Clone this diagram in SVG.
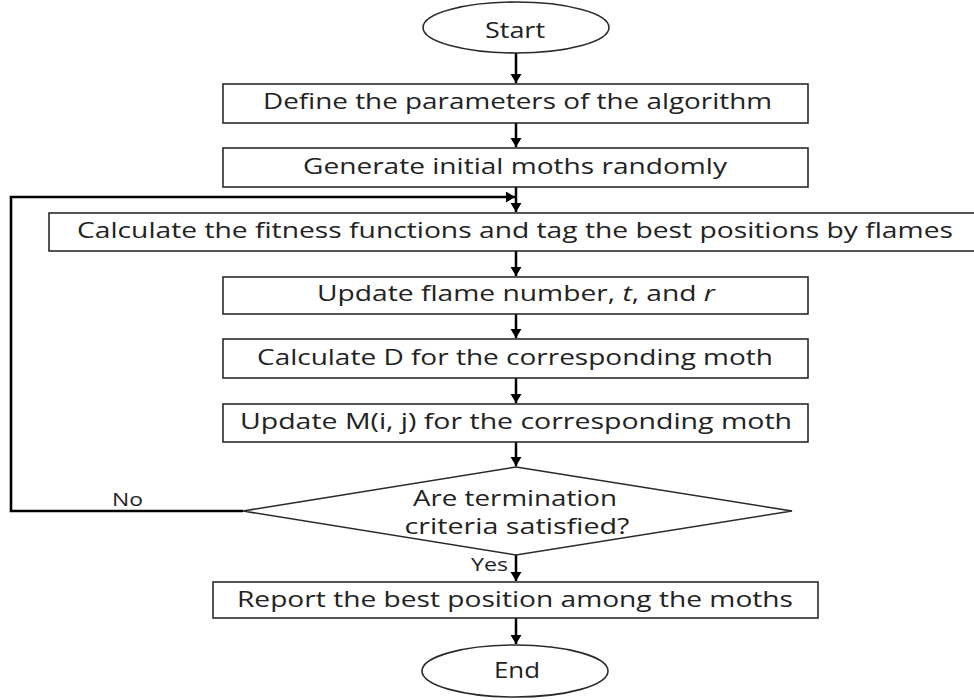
<svg xmlns="http://www.w3.org/2000/svg" width="974" height="700" viewBox="0 0 974 700">
  <style>
    .box { fill: #ffffff; stroke: #2a2a2a; stroke-width: 1.6; }
    .txt { font-family: "Open Sans", "Noto Sans", "Liberation Sans", sans-serif; font-size: 21px; fill: #222222; text-anchor: middle; }
    .lbl { font-family: "Open Sans", "Noto Sans", "Liberation Sans", sans-serif; font-size: 19px; fill: #222222; text-anchor: middle; }
    .conn { fill: none; stroke: #000000; stroke-width: 2.5; }
    .loop { fill: none; stroke: #000000; stroke-width: 2.6; }
  </style>
  <defs>
    <marker id="arrow" markerUnits="userSpaceOnUse" markerWidth="12" markerHeight="12" refX="9" refY="5.5" orient="auto">
      <path d="M0,0 L9,5.5 L0,11 z" fill="#000000"/>
    </marker>
  </defs>
  <rect width="974" height="700" fill="#ffffff"/>

  <g id="connectors">
    <line class="conn" x1="516" y1="53" x2="516" y2="83" marker-end="url(#arrow)"/>
    <line class="conn" x1="516" y1="123" x2="516" y2="147" marker-end="url(#arrow)"/>
    <line class="conn" x1="516" y1="187" x2="516" y2="212" marker-end="url(#arrow)"/>
    <line class="conn" x1="516" y1="251" x2="516" y2="276" marker-end="url(#arrow)"/>
    <line class="conn" x1="516" y1="314" x2="516" y2="338" marker-end="url(#arrow)"/>
    <line class="conn" x1="516" y1="378" x2="516" y2="403" marker-end="url(#arrow)"/>
    <line class="conn" x1="516" y1="442" x2="516" y2="466" marker-end="url(#arrow)"/>
    <line class="conn" x1="516" y1="555" x2="516" y2="581" marker-end="url(#arrow)"/>
    <line class="conn" x1="516" y1="618" x2="516" y2="644" marker-end="url(#arrow)"/>
    <polyline class="loop" points="243,511 11,511 11,197 515,197" marker-end="url(#arrow)"/>
    <text class="lbl" x="127.5" y="506" textLength="31" lengthAdjust="spacingAndGlyphs">No</text>
    <text class="lbl" x="489.5" y="571" textLength="37" lengthAdjust="spacingAndGlyphs">Yes</text>
  </g>

  <g id="start">
    <ellipse class="box" cx="516" cy="27.5" rx="93" ry="25.5"/>
    <text class="txt" x="515" y="38" textLength="60" lengthAdjust="spacingAndGlyphs">Start</text>
  </g>

  <g id="define">
    <rect class="box" x="223" y="84" width="585" height="39"/>
    <text class="txt" x="517.5" y="109" textLength="509" lengthAdjust="spacingAndGlyphs">Define the parameters of the algorithm</text>
  </g>

  <g id="generate">
    <rect class="box" x="223" y="148" width="585" height="39"/>
    <text class="txt" x="515" y="174" textLength="424" lengthAdjust="spacingAndGlyphs">Generate initial moths randomly</text>
  </g>

  <g id="fitness">
    <rect class="box" x="49" y="213" width="935" height="38"/>
    <text class="txt" x="515" y="238" textLength="876" lengthAdjust="spacingAndGlyphs">Calculate the fitness functions and tag the best positions by flames</text>
  </g>

  <g id="update-flame">
    <rect class="box" x="223" y="277" width="585" height="37"/>
    <text class="txt" x="516" y="301" textLength="398" lengthAdjust="spacingAndGlyphs">Update flame number, <tspan font-style="italic">t</tspan>, and <tspan font-style="italic">r</tspan></text>
  </g>

  <g id="calc-d">
    <rect class="box" x="223" y="339" width="585" height="39"/>
    <text class="txt" x="515" y="365" textLength="516" lengthAdjust="spacingAndGlyphs">Calculate D for the corresponding moth</text>
  </g>

  <g id="update-m">
    <rect class="box" x="223" y="404" width="585" height="38"/>
    <text class="txt" x="516" y="429" textLength="552" lengthAdjust="spacingAndGlyphs">Update M(i, j) for the corresponding moth</text>
  </g>

  <g id="decision">
    <polygon class="box" points="516,467 792,511 516,555 243,511"/>
    <text class="txt" x="515" y="506" textLength="204" lengthAdjust="spacingAndGlyphs">Are termination</text>
    <text class="txt" x="517" y="534" textLength="225" lengthAdjust="spacingAndGlyphs">criteria satisfied?</text>
  </g>

  <g id="report">
    <rect class="box" x="213" y="582" width="605" height="36"/>
    <text class="txt" x="515" y="607" textLength="556" lengthAdjust="spacingAndGlyphs">Report the best position among the moths</text>
  </g>

  <g id="end">
    <ellipse class="box" cx="515" cy="671" rx="93" ry="26"/>
    <text class="txt" x="517" y="678" textLength="46" lengthAdjust="spacingAndGlyphs">End</text>
  </g>
</svg>
